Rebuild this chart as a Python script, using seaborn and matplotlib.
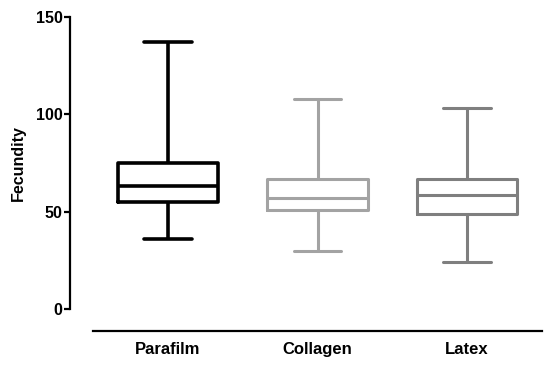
import matplotlib
matplotlib.use("Agg")
import matplotlib.pyplot as plt
import seaborn as sns
import pandas as pd

# Five-number summaries (min, Q1, median, Q3, max)
categories = ["Parafilm", "Collagen", "Latex"]
parafilm = [36, 55, 63, 75, 137]
collagen = [30, 51, 57, 67, 108]
latex = [24, 49, 58.5, 67, 103]
colors = ["#000000", "#a3a3a3", "#7f7f7f"]
yticks = [0, 50, 100, 150]

df = pd.DataFrame({
    "group": [c for c, v in zip(categories, [parafilm, collagen, latex]) for _ in v],
    "value": parafilm + collagen + latex,
})

sns.set_style("white")
plt.rcParams["font.family"] = ["Liberation Sans", "DejaVu Sans"]
plt.rcParams["font.weight"] = "bold"
plt.rcParams["axes.labelweight"] = "bold"
plt.rcParams["text.color"] = "black"
plt.rcParams["axes.labelcolor"] = "black"
plt.rcParams["xtick.color"] = "black"
plt.rcParams["ytick.color"] = "black"

fig = plt.figure(figsize=(5.5, 3.69), dpi=100)
ax = fig.add_axes([93 / 550, 60 / 369, 449 / 550, 292 / 369])

lws = [2.6, 2.2, 2.2]
for i, cat in enumerate(categories):
    sub = df[df["group"] == cat]
    c = colors[i]
    sns.boxplot(
        data=sub, x="group", y="value", order=categories, ax=ax,
        whis=(0, 100), width=0.67, fill=False, color=c,
        linewidth=lws[i],
        boxprops=dict(color=c, linewidth=lws[i]),
        medianprops=dict(color=c, linewidth=lws[i]),
        whiskerprops=dict(color=c, linewidth=lws[i]),
        capprops=dict(color=c, linewidth=lws[i]),
        capwidths=0.32,
    )

ax.set_xlim(-0.5, 2.5)
ax.set_ylim(0, 150)
ax.set_yticks(yticks)
ax.set_yticklabels([str(t) for t in yticks])
ax.set_xticks(range(len(categories)))
ax.set_xticklabels(categories)
ax.set_xlabel("")
ax.set_ylabel("Fecundity", fontsize=11.5, fontweight="bold", labelpad=7, color="black")

for s in ["top", "right"]:
    ax.spines[s].set_visible(False)
ax.spines["left"].set_position(("outward", 16.5))
ax.spines["bottom"].set_position(("outward", 16))
ax.spines["left"].set_linewidth(1.6)
ax.spines["bottom"].set_linewidth(1.6)
ax.spines["left"].set_color("black")
ax.spines["bottom"].set_color("black")
ax.tick_params(axis="y", which="major", left=True, length=4, width=1.6, pad=1.5,
               color="black", labelcolor="black", labelsize=11.5)
ax.tick_params(axis="x", which="major", bottom=False, length=0, pad=8,
               labelcolor="black", labelsize=12)
for lab in ax.get_xticklabels() + ax.get_yticklabels():
    lab.set_fontweight("bold")

fig.savefig("out.png", dpi=100)
